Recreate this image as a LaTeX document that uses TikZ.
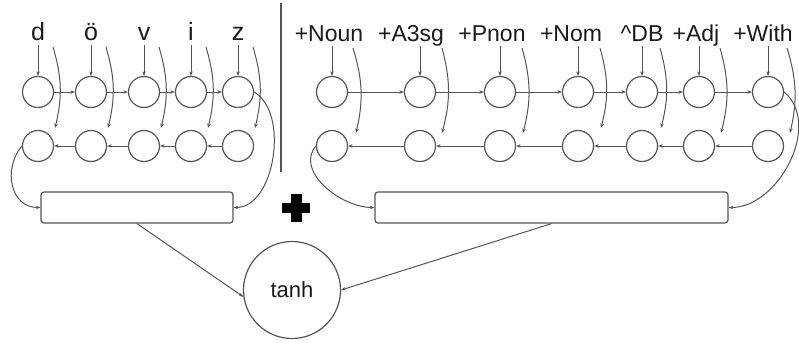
\documentclass[tikz,border=0pt]{standalone}
\usepackage{fontspec}
\setmainfont{Liberation Sans}
\usetikzlibrary{arrows.meta}
\definecolor{linec}{HTML}{555555}
\definecolor{txtc}{HTML}{1A1A1A}
\begin{document}
\begin{tikzpicture}[x=1pt,y=1pt,
  cell/.style={circle,draw=linec,line width=1.2pt,minimum size=31pt,inner sep=0pt},
  arr/.style={draw=linec,line width=1pt,-{Stealth[length=4.5pt,width=3.5pt]}},
  lbl/.style={font=\fontsize{25}{28}\selectfont,text=txtc,anchor=base,inner sep=0pt},
  rlbl/.style={font=\fontsize{23}{28}\selectfont,text=txtc,anchor=base,inner sep=0pt},
  bar/.style={draw=linec,line width=1.2pt,rounded corners=3pt,inner sep=0pt}]
\useasboundingbox (0,0) rectangle (799,-343);
% divider
\draw[linec,line width=1.2pt] (281,-3) -- (281,-172);
% left part
\foreach \i/\x/\t in {1/38/d,2/91/ö,3/144/v,4/191/i,5/238/z} {
  \node[lbl] (lt\i) at (\x,-40) {\t};
  \node[cell] (lu\i) at (\x,-92) {};
  \node[cell] (ld\i) at (\x,-146) {};
  \coordinate (lp\i) at (\x,-45);
  \coordinate (ls\i) at (\x+15,-47);
  \coordinate (le\i) at (\x+17,-128);
  \draw[arr] (lp\i) -- (lu\i.north);
  \draw[arr] (ls\i) to[bend left=15] (le\i);
}
\foreach \a/\b in {1/2,2/3,3/4,4/5} {
  \draw[arr] (lu\a) -- (lu\b);
  \draw[arr] (ld\b) -- (ld\a);
}
\node[bar,minimum width=192pt,minimum height=31pt] (lbar) at (137,-207.5) {};
\draw[arr] (ld1.west) to[out=230,in=180,looseness=1.2] (lbar.west);
\draw[arr] (lu5.east) to[out=-30,in=0,looseness=0.9] (lbar.east);
% right part
\foreach \i/\c/\x/\t/\sx/\ex/\ey in {1/329/332/+Noun/353/356/133,2/411/420/+A3sg/442/442/133,3/492/500/+Pnon/522/523/133,4/571/578/+Nom/600/601/128,5/642/642/\textasciicircum DB/660/661/128,6/696/699/+Adj/720/721/133,7/763/768/+With/787/790/133} {
  \node[rlbl] (rt\i) at (\c,-41) {\t};
  \node[cell] (ru\i) at (\x,-92) {};
  \node[cell] (rd\i) at (\x,-146) {};
  \coordinate (rp\i) at (\x,-46);
  \coordinate (rs\i) at (\sx,-48);
  \coordinate (re\i) at (\ex,-\ey);
  \draw[arr] (rp\i) -- (ru\i.north);
  \draw[arr] (rs\i) to[bend left=15] (re\i);
}
\foreach \a/\b in {1/2,2/3,3/4,4/5,5/6,6/7} {
  \draw[arr] (ru\a) -- (ru\b);
  \draw[arr] (rd\b) -- (rd\a);
}
\node[bar,minimum width=353pt,minimum height=31pt] (rbar) at (551.5,-207.5) {};
\draw[arr] (rd1.west) to[out=230,in=180] (rbar.west);
\draw[arr] (ru7.east) to[out=-40,in=0] (rbar.east);
% plus sign
\fill[black] (282,-202.5) rectangle (310,-212.5);
\fill[black] (291,-193.5) rectangle (301.5,-222);
% tanh
\node[circle,draw=linec,line width=1.2pt,minimum size=97pt,inner sep=0pt,
  font=\fontsize{22}{26}\selectfont,text=txtc] (tanh) at (292,-290) {tanh};
\draw[arr] (lbar.south) -- (tanh.188);
\draw[arr] (rbar.south) -- (tanh.east);
\end{tikzpicture}
\end{document}
